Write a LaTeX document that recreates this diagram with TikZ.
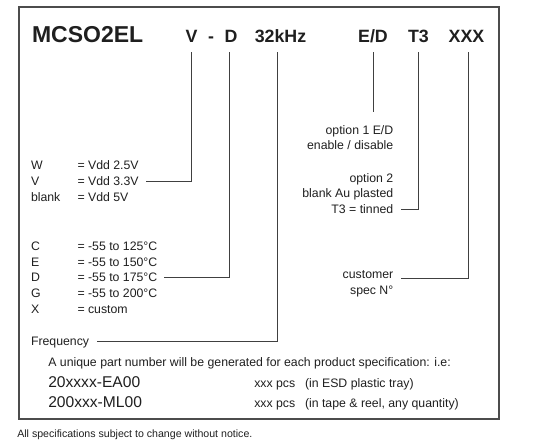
\documentclass[tikz,border=0pt]{standalone}
\usepackage{fontspec}
\setmainfont{Liberation Sans}
\begin{document}
\begin{tikzpicture}[x=1pt,y=-1pt,
  every node/.style={inner sep=0pt,outer sep=0pt,text=black!88},
  ttl/.style={font=\fontsize{17.8}{19}\selectfont\bfseries,anchor=base},
  big/.style={font=\fontsize{23}{25}\selectfont\bfseries,anchor=base west},
  txt/.style={font=\fontsize{12.3}{14}\selectfont,anchor=base west},
  rtxt/.style={font=\fontsize{12.3}{14}\selectfont,anchor=base east},
  mid/.style={font=\fontsize{15.6}{17}\selectfont,anchor=base west},
  conn/.style={draw=black!75,line width=0.8pt},
  frame/.style={draw=black!70,line width=1.3pt}]
\useasboundingbox (0,0) rectangle (560,445);
\draw[frame] (19,7) rectangle (499,419);
% title
\node[big] (tM) at (32,42.7) {MCSO2EL};
\node[ttl] (tV) at (191.5,42.7) {V};
\node[ttl] (tDash) at (211,42.7) {-};
\node[ttl] (tD) at (231,42.7) {D};
\node[ttl] (tF) at (280.5,42.7) {32kHz};
\node[ttl] (tE) at (373,42.7) {E/D};
\node[ttl] (tT) at (418.5,42.7) {T3};
\node[ttl] (tX) at (466.5,42.7) {XXX};
% left texts
\node[txt] (kW) at (31,169.3) {W};
\node[txt] (vW) at (77.5,169.3) {= Vdd 2.5V};
\node[txt] (kV) at (31,185.3) {V};
\node[txt] (vV) at (77.5,185.3) {= Vdd 3.3V};
\node[txt] (kB) at (31,201.3) {blank};
\node[txt] (vB) at (77.5,201.3) {= Vdd 5V};
\node[txt] (kC) at (31,250.3) {C};
\node[txt] (vC) at (77.5,250.3) {= -55 to 125°C};
\node[txt] (kE) at (31,266) {E};
\node[txt] (vE) at (77.5,266) {= -55 to 150°C};
\node[txt] (kD) at (31,281.7) {D};
\node[txt] (vD) at (77.5,281.7) {= -55 to 175°C};
\node[txt] (kG) at (31,297.7) {G};
\node[txt] (vG) at (77.5,297.7) {= -55 to 200°C};
\node[txt] (kX) at (31,313.7) {X};
\node[txt] (vX) at (77.5,313.7) {= custom};
\node[txt] (freq) at (31,345.5) {Frequency};
% right texts
\node[rtxt] (o1) at (393.3,134) {option 1 E/D};
\node[rtxt] (o1b) at (393.3,149.7) {enable / disable};
\node[rtxt] (o2) at (393.3,182) {option 2};
\node[rtxt] (o2b) at (393.3,197.7) {blank Au plasted};
\node[rtxt] (o2c) at (393.3,213.7) {T3 = tinned};
\node[rtxt] (cu) at (393.3,278.6) {customer};
\node[rtxt] (cu2) at (393.3,294.3) {spec N°};
% bottom texts
\node[txt] (uniq) at (48.3,366.7) {A unique part number will be generated for each product specification: i.e:};
\node[mid] (p1) at (48.3,387.3) {20xxxx-EA00};
\node[mid] (p2) at (48.3,407.3) {200xxx-ML00};
\node[txt] (q1) at (254.3,387.3) {xxx pcs};
\node[txt] (q2) at (254.3,407.3) {xxx pcs};
\node[txt] (d1) at (305,387.3) {(in ESD plastic tray)};
\node[txt] (d2) at (305,407.3) {(in tape \& reel, any quantity)};
\node[font=\fontsize{10.6}{12}\selectfont,anchor=base west] (foot) at (17.3,437.7) {All specifications subject to change without notice.};
% connectors
\draw[conn] ([xshift=-0.5pt,yshift=-9.3pt]tV.base) |- ([xshift=7pt]vV.east);
\draw[conn] ([xshift=-2pt,yshift=-9.3pt]tD.base) |- ([xshift=6.5pt]vD.east);
\draw[conn] ([xshift=-2.8pt,yshift=-9.3pt]tF.base) |- ([xshift=7.5pt,yshift=1.5pt]freq.east);
\draw[conn] ([yshift=-9.3pt]tE.base) -- ([yshift=-69pt]tE.base);
\draw[conn] ([yshift=-9.3pt]tT.base) |- ([xshift=7.7pt]o2c.east);
\draw[conn] ([xshift=1.5pt,yshift=-9.3pt]tX.base) |- ([xshift=7.7pt]cu.base east);
\end{tikzpicture}
\end{document}
